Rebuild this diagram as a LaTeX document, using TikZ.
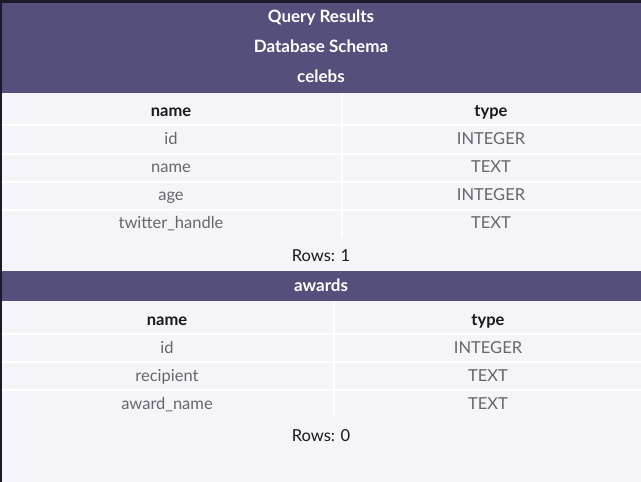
\documentclass[tikz,border=0pt]{standalone}
\usepackage{fontspec}
\setmainfont{Lato}
\definecolor{bgpage}{HTML}{F5F4F9}
\definecolor{bandpurple}{HTML}{554F7B}
\definecolor{darkedge}{HTML}{1C1A2A}
\definecolor{cellgray}{HTML}{66666C}
\tikzset{
  band/.style={fill=bandpurple, draw=none},
  bandtext/.style={anchor=base, text=white, font=\fontsize{17}{20}\selectfont\bfseries, inner sep=0},
  headtext/.style={anchor=base, text=black!90, font=\fontsize{16.5}{20}\selectfont\bfseries, inner sep=0},
  celltext/.style={anchor=base, text=cellgray, font=\fontsize{16.5}{20}\selectfont, inner sep=0},
  rowstext/.style={anchor=base, text=black!90, font=\fontsize{16.5}{20}\selectfont, inner sep=0},
  rule/.style={draw=white, line width=2pt}
}
\begin{document}
\begin{tikzpicture}[x=1pt,y=-1pt]
\useasboundingbox (0,0) rectangle (641,482);
\fill[bgpage] (0,0) rectangle (641,482);

% frame edges
\fill[darkedge] (0,0) rectangle (641,3);
\fill[darkedge] (0,0) rectangle (1.5,482);

%-----------------------------------------------------
\fill[band] (1.5,3) rectangle (641,93);
\node (qresults) at (321,22) [bandtext] {Query Results};
\node (dbschema) at (321,52) [bandtext] {Database Schema};
\node (celebs) at (321,82) [bandtext] {celebs};

% celebs table
\draw[rule] (1.5,125) -- (641,125);
\draw[rule] (1.5,153.5) -- (641,153.5);
\draw[rule] (1.5,181.5) -- (641,181.5);
\draw[rule] (1.5,209.5) -- (641,209.5);
\draw[rule] (342,93) -- (342,238);

\node (c_name) at (171,116.5) [headtext] {name};
\node (c_type) at (491,116.5) [headtext] {type};
\node (c_id) at (171,144.5) [celltext] {id};
\node (c_id_t) at (491,144.5) [celltext] {INTEGER};
\node (c_nm) at (171,172.5) [celltext] {name};
\node (c_nm_t) at (491,172.5) [celltext] {TEXT};
\node (c_age) at (171,200.5) [celltext] {age};
\node (c_age_t) at (491,200.5) [celltext] {INTEGER};
\node (c_tw) at (171,228.5) [celltext] {twitter\_handle};
\node (c_tw_t) at (491,228.5) [celltext] {TEXT};

\node (c_rows) at (321,261.5) [rowstext] {Rows: 1};

%-----------------------------------------------------
\fill[band] (1.5,271) rectangle (641,301);
\node (awards) at (321,291) [bandtext] {awards};

% awards table
\draw[rule] (1.5,334) -- (641,334);
\draw[rule] (1.5,362) -- (641,362);
\draw[rule] (1.5,390) -- (641,390);
\draw[rule] (334,301) -- (334,417);

\node (a_name) at (167,325.5) [headtext] {name};
\node (a_type) at (488,325.5) [headtext] {type};
\node (a_id) at (167,353.5) [celltext] {id};
\node (a_id_t) at (488,353.5) [celltext] {INTEGER};
\node (a_rc) at (167,381.5) [celltext] {recipient};
\node (a_rc_t) at (488,381.5) [celltext] {TEXT};
\node (a_aw) at (167,409.5) [celltext] {award\_name};
\node (a_aw_t) at (488,409.5) [celltext] {TEXT};

\node (a_rows) at (321,441.5) [rowstext] {Rows: 0};
\end{tikzpicture}
\end{document}
